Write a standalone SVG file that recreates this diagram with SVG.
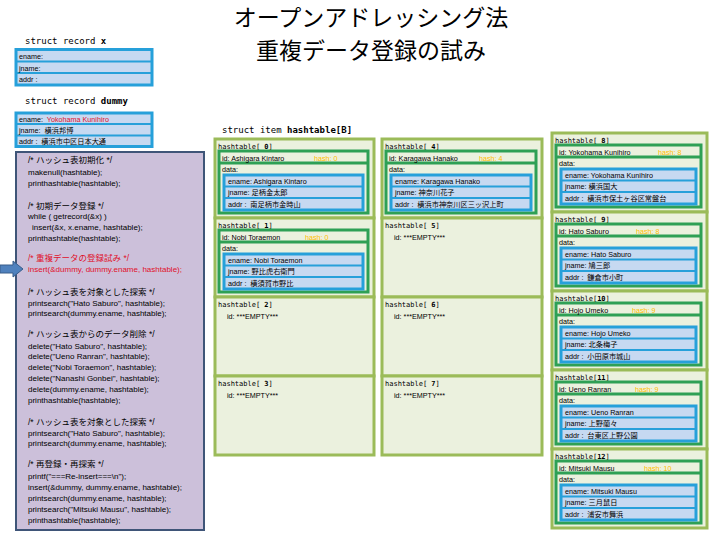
<svg xmlns="http://www.w3.org/2000/svg" width="720" height="540" viewBox="0 0 720 540">
<style>
text{font-family:"Liberation Sans","Noto Sans CJK JP",sans-serif;fill:#000}
.title{font-family:"Noto Sans CJK JP",sans-serif;font-size:23px}
.mono{font-family:"DejaVu Sans Mono","Noto Sans CJK JP",monospace;font-size:9px}
.code{font-size:8px}
.cmt{font-size:8.5px}
.t{font-size:7.2px}
.lbl{font-family:"DejaVu Sans Mono","Noto Sans CJK JP",monospace;font-size:7px}
.hash{fill:#ffc000}
.red{fill:#e0102a}
.entry{fill:#ebf1de;stroke:#9bbb59;stroke-width:3}
.dg{fill:#ebf1de;stroke:#2ea055;stroke-width:3}
.dgl{stroke:#2ea055;stroke-width:3}
.blue{fill:#c6d9f1;stroke:#26a0da;stroke-width:3}
.bl{stroke:#26a0da;stroke-width:2}
.codebox{fill:#ccc0da;stroke:#3f5578;stroke-width:2}
</style>

<g id="title">
<text class="title" x="371" y="26" text-anchor="middle">オープンアドレッシング法</text>
<text class="title" x="371" y="59" text-anchor="middle">重複データ登録の試み</text>
</g>

<g id="record-x">
<text class="mono" x="25" y="44">struct record <tspan font-weight="bold">x</tspan></text>
<rect class="blue" x="16" y="49.5" width="136" height="35.5"/>
<line class="bl" x1="16" y1="61.5" x2="152" y2="61.5"/>
<line class="bl" x1="16" y1="73" x2="152" y2="73"/>
<text class="t" x="19" y="59">ename:</text>
<text class="t" x="19" y="70.5">jname:</text>
<text class="t" x="19" y="82" xml:space="preserve">addr :</text>
</g>

<g id="record-dummy">
<text class="mono" x="25" y="104">struct record <tspan font-weight="bold">dummy</tspan></text>
<rect class="blue" x="16" y="113" width="136" height="33.5"/>
<line class="bl" x1="16" y1="124" x2="152" y2="124"/>
<line class="bl" x1="16" y1="135.5" x2="152" y2="135.5"/>
<text class="t" x="19" y="121.5" xml:space="preserve">ename:  <tspan class="red">Yokohama Kunihiro</tspan></text>
<text class="t" x="19" y="132.5" xml:space="preserve">jname:  横浜邦博</text>
<text class="t" x="19" y="144" xml:space="preserve">addr :  横浜市中区日本大通</text>
</g>

<g id="code">
<rect class="codebox" x="16" y="152" width="188" height="378"/>
<text class="cmt" x="28" y="163">/* ハッシュ表初期化 */</text>
<text class="code" x="28" y="175">makenull(hashtable);</text>
<text class="code" x="28" y="186">printhashtable(hashtable);</text>
<text class="cmt" x="28" y="209">/* 初期データ登録 */</text>
<text class="code" x="28" y="219">while ( getrecord(&amp;x) )</text>
<text class="code" x="32" y="230">insert(&amp;x, x.ename, hashtable);</text>
<text class="code" x="28" y="241">printhashtable(hashtable);</text>
<text class="cmt red" x="28" y="261">/* 重複データの登録試み */</text>
<text class="code red" x="28" y="272">insert(&amp;dummy, dummy.ename, hashtable);</text>
<text class="cmt" x="28" y="295">/* ハッシュ表を対象とした探索 */</text>
<text class="code" x="28" y="306">printsearch("Hato Saburo", hashtable);</text>
<text class="code" x="28" y="316">printsearch(dummy.ename, hashtable);</text>
<text class="cmt" x="28" y="337">/* ハッシュ表からのデータ削除 */</text>
<text class="code" x="28" y="349">delete("Hato Saburo", hashtable);</text>
<text class="code" x="28" y="359">delete("Ueno Ranran", hashtable);</text>
<text class="code" x="28" y="370">delete("Nobi Toraemon", hashtable);</text>
<text class="code" x="28" y="381">delete("Nanashi Gonbei", hashtable);</text>
<text class="code" x="28" y="392">delete(dummy.ename, hashtable);</text>
<text class="code" x="28" y="403">printhashtable(hashtable);</text>
<text class="cmt" x="28" y="425">/* ハッシュ表を対象とした探索 */</text>
<text class="code" x="28" y="436">printsearch("Hato Saburo", hashtable);</text>
<text class="code" x="28" y="446">printsearch(dummy.ename, hashtable);</text>
<text class="cmt" x="28" y="467">/* 再登録・再探索 */</text>
<text class="code" x="28" y="479">printf("===Re-insert===\n");</text>
<text class="code" x="28" y="490">insert(&amp;dummy, dummy.ename, hashtable);</text>
<text class="code" x="28" y="501">printsearch(dummy.ename, hashtable);</text>
<text class="code" x="28" y="512">printsearch("Mitsuki Mausu", hashtable);</text>
<text class="code" x="28" y="523">printhashtable(hashtable);</text>
</g>

<g id="connectors">
<polygon points="0,265 13,265 13,261 23,269 13,277 13,273 0,273" fill="#4f81bd" stroke="#385d8a" stroke-width="1"/>
</g>

<text class="mono" x="222" y="133">struct item <tspan font-weight="bold">hashtable[B]</tspan></text>

<!-- column 1 -->
<g id="ht0" transform="translate(215,139)">
<rect class="entry" width="159" height="79"/>
<text class="lbl" x="3" y="9.5">hashtable[ <tspan font-weight="bold">0</tspan>]</text>
<rect class="dg" x="4" y="12" width="149" height="62"/>
<line class="dgl" x1="4" y1="24" x2="153" y2="24"/>
<text class="t" x="7" y="21.5">id: Ashigara Kintaro</text>
<text class="t hash" x="99" y="21.5">hash: 0</text>
<text class="t" x="7" y="32.5">data:</text>
<rect class="blue" x="9" y="36" width="139" height="35"/>
<line class="bl" x1="9" y1="47.5" x2="148" y2="47.5"/>
<line class="bl" x1="9" y1="59" x2="148" y2="59"/>
<text class="t" x="13" y="44.5">ename: Ashigara Kintaro</text>
<text class="t" x="13" y="56">jname: 足柄金太郎</text>
<text class="t" x="13" y="67.5" xml:space="preserve">addr :  南足柄市金時山</text>
</g>
<g id="ht1" transform="translate(215,218)">
<rect class="entry" width="159" height="79"/>
<text class="lbl" x="3" y="9.5">hashtable[ <tspan font-weight="bold">1</tspan>]</text>
<rect class="dg" x="4" y="12" width="149" height="62"/>
<line class="dgl" x1="4" y1="24" x2="153" y2="24"/>
<text class="t" x="7" y="21.5">id: Nobi Toraemon</text>
<text class="t hash" x="90" y="21.5">hash: 0</text>
<text class="t" x="7" y="32.5">data:</text>
<rect class="blue" x="9" y="36" width="139" height="35"/>
<line class="bl" x1="9" y1="47.5" x2="148" y2="47.5"/>
<line class="bl" x1="9" y1="59" x2="148" y2="59"/>
<text class="t" x="13" y="44.5">ename: Nobi Toraemon</text>
<text class="t" x="13" y="56">jname: 野比虎右衛門</text>
<text class="t" x="13" y="67.5" xml:space="preserve">addr :  横須賀市野比</text>
</g>
<g id="ht2" transform="translate(215,297)">
<rect class="entry" width="159" height="79"/>
<text class="lbl" x="3" y="9.5">hashtable[ <tspan font-weight="bold">2</tspan>]</text>
<text class="t" x="12" y="21.5">id: ***EMPTY***</text>
</g>
<g id="ht3" transform="translate(215,376)">
<rect class="entry" width="159" height="79"/>
<text class="lbl" x="3" y="9.5">hashtable[ <tspan font-weight="bold">3</tspan>]</text>
<text class="t" x="12" y="21.5">id: ***EMPTY***</text>
</g>

<!-- column 2 -->
<g id="ht4" transform="translate(382,139)">
<rect class="entry" width="160" height="79"/>
<text class="lbl" x="3" y="9.5">hashtable[ <tspan font-weight="bold">4</tspan>]</text>
<rect class="dg" x="4" y="12" width="150" height="62"/>
<line class="dgl" x1="4" y1="24" x2="154" y2="24"/>
<text class="t" x="7" y="21.5">id: Karagawa Hanako</text>
<text class="t hash" x="97" y="21.5">hash: 4</text>
<text class="t" x="7" y="32.5">data:</text>
<rect class="blue" x="9" y="36" width="140" height="35"/>
<line class="bl" x1="9" y1="47.5" x2="149" y2="47.5"/>
<line class="bl" x1="9" y1="59" x2="149" y2="59"/>
<text class="t" x="13" y="44.5">ename: Karagawa Hanako</text>
<text class="t" x="13" y="56">jname: 神奈川花子</text>
<text class="t" x="13" y="67.5" xml:space="preserve">addr :  横浜市神奈川区三ッ沢上町</text>
</g>
<g id="ht5" transform="translate(382,218)">
<rect class="entry" width="160" height="79"/>
<text class="lbl" x="3" y="9.5">hashtable[ <tspan font-weight="bold">5</tspan>]</text>
<text class="t" x="12" y="21.5">id: ***EMPTY***</text>
</g>
<g id="ht6" transform="translate(382,297)">
<rect class="entry" width="160" height="79"/>
<text class="lbl" x="3" y="9.5">hashtable[ <tspan font-weight="bold">6</tspan>]</text>
<text class="t" x="12" y="21.5">id: ***EMPTY***</text>
</g>
<g id="ht7" transform="translate(382,376)">
<rect class="entry" width="160" height="79"/>
<text class="lbl" x="3" y="9.5">hashtable[ <tspan font-weight="bold">7</tspan>]</text>
<text class="t" x="12" y="21.5">id: ***EMPTY***</text>
</g>

<!-- column 3 -->
<g id="ht8" transform="translate(552,133)">
<rect class="entry" width="155" height="79"/>
<text class="lbl" x="3" y="9.5">hashtable[ <tspan font-weight="bold">8</tspan>]</text>
<rect class="dg" x="4" y="12" width="145" height="62"/>
<line class="dgl" x1="4" y1="24" x2="149" y2="24"/>
<text class="t" x="7" y="21.5">id: Yokohama Kunihiro</text>
<text class="t hash" x="106" y="21.5">hash: 8</text>
<text class="t" x="7" y="32.5">data:</text>
<rect class="blue" x="9" y="36" width="135" height="35"/>
<line class="bl" x1="9" y1="47.5" x2="144" y2="47.5"/>
<line class="bl" x1="9" y1="59" x2="144" y2="59"/>
<text class="t" x="13" y="44.5">ename: Yokohama Kunihiro</text>
<text class="t" x="13" y="56">jname: 横浜国大</text>
<text class="t" x="13" y="67.5" xml:space="preserve">addr :  横浜市保土ヶ谷区常盤台</text>
</g>
<g id="ht9" transform="translate(552,212)">
<rect class="entry" width="155" height="79"/>
<text class="lbl" x="3" y="9.5">hashtable[ <tspan font-weight="bold">9</tspan>]</text>
<rect class="dg" x="4" y="12" width="145" height="62"/>
<line class="dgl" x1="4" y1="24" x2="149" y2="24"/>
<text class="t" x="7" y="21.5">id: Hato Saburo</text>
<text class="t hash" x="84" y="21.5">hash: 8</text>
<text class="t" x="7" y="32.5">data:</text>
<rect class="blue" x="9" y="36" width="135" height="35"/>
<line class="bl" x1="9" y1="47.5" x2="144" y2="47.5"/>
<line class="bl" x1="9" y1="59" x2="144" y2="59"/>
<text class="t" x="13" y="44.5">ename: Hato Saburo</text>
<text class="t" x="13" y="56">jname: 鳩三郎</text>
<text class="t" x="13" y="67.5" xml:space="preserve">addr :  鎌倉市小町</text>
</g>
<g id="ht10" transform="translate(552,291)">
<rect class="entry" width="155" height="79"/>
<text class="lbl" x="3" y="9.5">hashtable[<tspan font-weight="bold">10</tspan>]</text>
<rect class="dg" x="4" y="12" width="145" height="62"/>
<line class="dgl" x1="4" y1="24" x2="149" y2="24"/>
<text class="t" x="7" y="21.5">id: Hojo Umeko</text>
<text class="t hash" x="80" y="21.5">hash: 9</text>
<text class="t" x="7" y="32.5">data:</text>
<rect class="blue" x="9" y="36" width="135" height="35"/>
<line class="bl" x1="9" y1="47.5" x2="144" y2="47.5"/>
<line class="bl" x1="9" y1="59" x2="144" y2="59"/>
<text class="t" x="13" y="44.5">ename: Hojo Umeko</text>
<text class="t" x="13" y="56">jname: 北条梅子</text>
<text class="t" x="13" y="67.5" xml:space="preserve">addr :  小田原市城山</text>
</g>
<g id="ht11" transform="translate(552,370)">
<rect class="entry" width="155" height="79"/>
<text class="lbl" x="3" y="9.5">hashtable[<tspan font-weight="bold">11</tspan>]</text>
<rect class="dg" x="4" y="12" width="145" height="62"/>
<line class="dgl" x1="4" y1="24" x2="149" y2="24"/>
<text class="t" x="7" y="21.5">id: Ueno Ranran</text>
<text class="t hash" x="83" y="21.5">hash: 9</text>
<text class="t" x="7" y="32.5">data:</text>
<rect class="blue" x="9" y="36" width="135" height="35"/>
<line class="bl" x1="9" y1="47.5" x2="144" y2="47.5"/>
<line class="bl" x1="9" y1="59" x2="144" y2="59"/>
<text class="t" x="13" y="44.5">ename: Ueno Ranran</text>
<text class="t" x="13" y="56">jname: 上野蘭々</text>
<text class="t" x="13" y="67.5" xml:space="preserve">addr :  台東区上野公園</text>
</g>
<g id="ht12" transform="translate(552,449)">
<rect class="entry" width="155" height="79"/>
<text class="lbl" x="3" y="9.5">hashtable[<tspan font-weight="bold">12</tspan>]</text>
<rect class="dg" x="4" y="12" width="145" height="62"/>
<line class="dgl" x1="4" y1="24" x2="149" y2="24"/>
<text class="t" x="7" y="21.5">id: Mitsuki Mausu</text>
<text class="t hash" x="92" y="21.5">hash: 10</text>
<text class="t" x="7" y="32.5">data:</text>
<rect class="blue" x="9" y="36" width="135" height="35"/>
<line class="bl" x1="9" y1="47.5" x2="144" y2="47.5"/>
<line class="bl" x1="9" y1="59" x2="144" y2="59"/>
<text class="t" x="13" y="44.5">ename: Mitsuki Mausu</text>
<text class="t" x="13" y="56">jname: 三月鼠日</text>
<text class="t" x="13" y="67.5" xml:space="preserve">addr :  浦安市舞浜</text>
</g>
</svg>
